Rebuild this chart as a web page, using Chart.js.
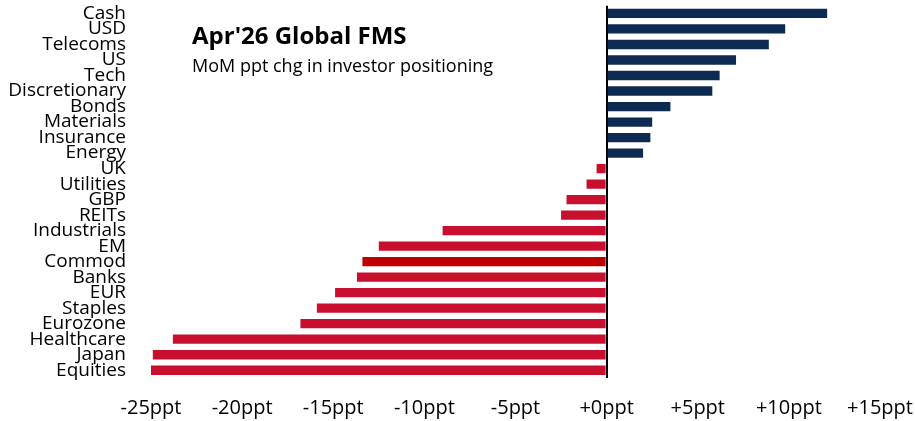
<!DOCTYPE html>
<html>
<head>
<meta charset="utf-8">
<script src="https://cdn.jsdelivr.net/npm/chart.js@4"></script>
<style>
  body { margin: 0; background: #fff; }
  #wrap { position: relative; width: 915px; height: 421px; }
  #title { position: absolute; left: 192px; top: 23px; font: bold 24px/1 "Open Sans", sans-serif; color: #000; white-space: nowrap; }
  #sub { position: absolute; left: 192px; top: 56px; font: 18px/1 "Open Sans", sans-serif; color: #000; white-space: nowrap; }
</style>
</head>
<body>
<div id="wrap">
  <canvas id="myChart" width="915" height="421"></canvas>
  <div id="title">Apr'26 Global FMS</div>
  <div id="sub">MoM ppt chg in investor positioning</div>
</div>
<script>
// categories and MoM change (ppt)
const categories = ['Cash', 'USD', 'Telecoms', 'US', 'Tech', 'Discretionary', 'Bonds', 'Materials',
  'Insurance', 'Energy', 'UK', 'Utilities', 'GBP', 'REITs', 'Industrials', 'EM', 'Commod', 'Banks',
  'EUR', 'Staples', 'Eurozone', 'Healthcare', 'Japan', 'Equities'];
const values = [12.1, 9.8, 8.9, 7.1, 6.2, 5.8, 3.5, 2.5, 2.4, 2.0, -0.55, -1.1, -2.2, -2.5, -9.0,
  -12.5, -13.4, -13.7, -14.9, -15.9, -16.8, -23.8, -24.9, -25.0];
const xTicks = [-25, -20, -15, -10, -5, 0, 5, 10, 15];

const barColors = values.map((v, i) => {
  if (categories[i] === 'Commod') return '#c00000';
  return v >= 0 ? '#0c2a52' : '#c8102e';
});

let ctx = document.getElementById('myChart').getContext('2d');

// tick padding is added to the axis' outer padding, so the gap to the labels
// comes from tickLength instead (tick marks themselves stay invisible)
let fmsChart = new Chart(ctx, {
  type: 'bar',
  data: {
    labels: categories,
    datasets: [{
      data: values,
      backgroundColor: barColors,
      borderWidth: 0,
      categoryPercentage: 1,
      barPercentage: 0.6
    }]
  },
  options: {
    indexAxis: 'y',
    responsive: false,
    animation: false,
    layout: { padding: { top: 5, right: 35, bottom: 0, left: 0 } },
    plugins: {
      legend: { display: false },
      tooltip: { enabled: false }
    },
    scales: {
      x: {
        min: -25,
        max: 15,
        afterBuildTicks: (axis) => { axis.ticks = xTicks.map(v => ({ value: v })); },
        afterFit: (axis) => { axis.height = 43; },
        border: { display: false },
        grid: {
          drawTicks: true,
          tickLength: 18,
          tickColor: 'transparent',
          color: (c) => (c.tick && c.tick.value === 0) ? '#000' : 'transparent',
          lineWidth: 2
        },
        ticks: {
          padding: 0,
          color: '#000',
          font: { family: 'Open Sans', size: 20 },
          callback: (v) => (v >= 0 ? '+' : '') + v + 'ppt'
        }
      },
      y: {
        afterFit: (axis) => { axis.width = 151; },
        border: { display: false },
        grid: { display: false, drawTicks: true, tickLength: 25 },
        ticks: {
          autoSkip: false,
          padding: 0,
          color: '#000',
          font: { family: 'Open Sans', size: 19, lineHeight: 0.6 }
        }
      }
    }
  }
});
</script>
</body>
</html>
